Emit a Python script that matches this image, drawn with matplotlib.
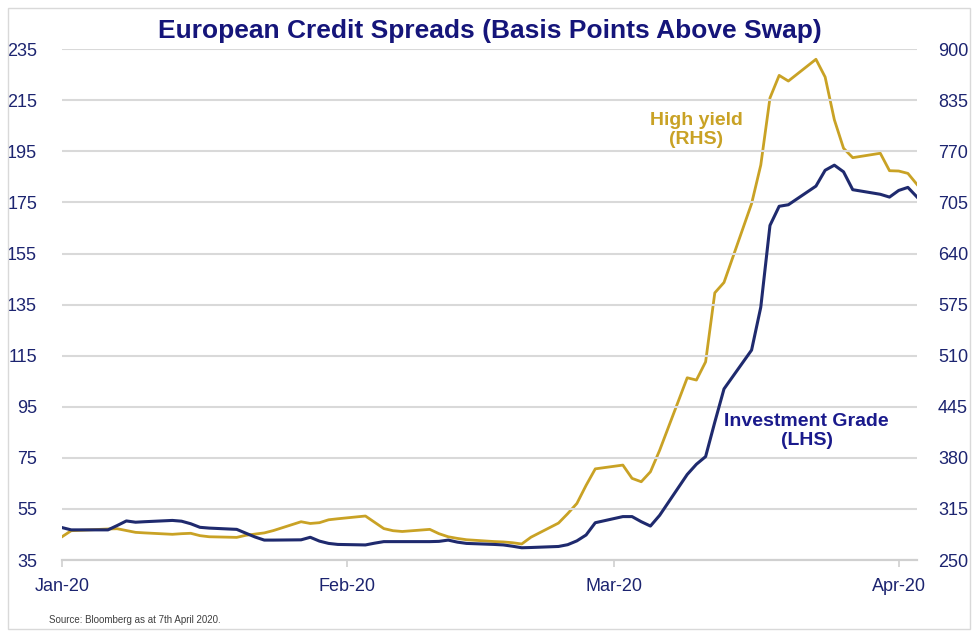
import matplotlib
matplotlib.use("Agg")
import matplotlib.pyplot as plt
import matplotlib.dates as mdates
from matplotlib.patches import Rectangle
import pandas as pd

plt.rcParams['font.family'] = ['Liberation Sans Narrow', 'Liberation Sans', 'DejaVu Sans']

# business days, 1 Jan - 3 Apr 2020
dates = pd.bdate_range("2020-01-01", "2020-04-03")

# Investment grade spread, bp (LHS)
ig = [47.7, 46.8, 46.8, 46.8, 48.5, 50.3, 49.8, 50.0, 50.5, 50.2,
      49.2, 47.8, 47.5, 47.0, 45.5, 44.0, 42.8, 42.8, 42.9, 43.9,
      42.4, 41.5, 41.1,
      40.9, 41.6, 42.2, 42.2, 42.2, 42.2, 42.3, 42.8, 42.0, 41.5,
      41.1, 40.9, 40.4, 39.8, 39.9, 40.3, 41.0, 42.5, 44.8, 49.6,
      52.0, 52.0, 50.0, 48.3, 52.5, 68.5, 72.5, 75.5, 89.0, 102.0,
      117.2, 134.0, 166.0, 173.5, 174.1, 181.4, 187.6, 189.6, 187.0, 180.0,
      178.2, 177.1,
      179.7, 180.9, 177.1]

# High yield spread, bp (RHS)
hy = [279.6, 287.3, 287.8, 289.5, 289.8, 287.5, 285.2, 284.5, 282.7, 283.5,
      284.0, 281.0, 279.6, 278.8, 281.5, 283.0, 284.5, 287.5, 298.7, 296.5,
      297.5, 301.2, 302.5,
      306.0, 298.0, 290.0, 287.3, 286.3, 289.0, 283.5, 279.6, 277.5, 275.8,
      273.5, 273.0, 272.0, 270.4, 279.0, 297.0, 309.0, 322.0, 345.0, 366.0,
      370.8, 353.9, 349.6, 362.3, 389.6, 481.9, 479.0, 502.2, 590.0, 603.2,
      703.5, 752.6, 838.0, 866.7, 859.5, 887.2, 864.6, 810.3, 774.0, 762.0,
      767.6, 745.4,
      745.0, 742.0, 727.8]

left_ticks = list(range(35, 236, 20))
right_ticks = list(range(250, 901, 65))
month_ticks = pd.to_datetime(["2020-01-01", "2020-02-01", "2020-03-01", "2020-04-01"])

navy = "#1f2a6e"
gold = "#c9a225"
text_navy = "#1c2470"

fig = plt.figure(figsize=(9.72, 6.31), dpi=100)
ax = fig.add_axes([0.0638, 0.1125, 0.8797, 0.8095])
ax2 = ax.twinx()

ax.set_ylim(35, 235)
ax2.set_ylim(250, 900)
ax.set_xlim(pd.Timestamp("2020-01-01"), pd.Timestamp("2020-04-03"))

ax.set_yticks(left_ticks)
ax2.set_yticks(right_ticks)
ax.yaxis.grid(True, color="#d9d9d9", linewidth=1.5)
ax.set_axisbelow(True)

ax2.plot(dates, hy, color=gold, linewidth=2.0, zorder=2)
ax.plot(dates, ig, color=navy, linewidth=2.2, zorder=3)
ax.set_zorder(ax2.get_zorder() + 1)
ax.patch.set_visible(False)

for a in (ax, ax2):
    for s in ("top", "left", "right"):
        a.spines[s].set_visible(False)
    a.spines["bottom"].set_color("#d0d0d0")
    a.spines["bottom"].set_linewidth(1.5)

ax.set_xticks(month_ticks)
ax.xaxis.set_major_formatter(mdates.DateFormatter("%b-%y"))
ax.tick_params(axis="x", length=5, color="#d0d0d0", width=1.2, pad=8,
               labelsize=13, labelcolor=text_navy)
ax.tick_params(axis="y", length=0, pad=18, labelsize=13, labelcolor=text_navy)
ax2.tick_params(axis="y", length=0, pad=15, labelsize=13, labelcolor=text_navy)

ax.set_title("European Credit Spreads (Basis Points Above Swap)", fontsize=19,
             fontweight="bold", color="#15157a", pad=8)

ax2.text(pd.Timestamp("2020-03-10"), 797, "High yield\n(RHS)", color=gold,
         fontsize=14, fontweight="bold", ha="center", va="center", linespacing=1.15)
ax.text(pd.Timestamp("2020-03-22"), 85.5, "Investment Grade\n(LHS)", color="#1a1a8c",
        fontsize=14, fontweight="bold", ha="center", va="center", linespacing=1.15)

fig.text(0.05, 0.012, "Source: Bloomberg as at 7th April 2020.", fontsize=7,
         color="#404040")

fig.patches.append(Rectangle((0.008, 0.003), 0.99, 0.985, transform=fig.transFigure,
                             fill=False, edgecolor="#d9d9d9", linewidth=1))

fig.savefig("out.png", dpi=100)
